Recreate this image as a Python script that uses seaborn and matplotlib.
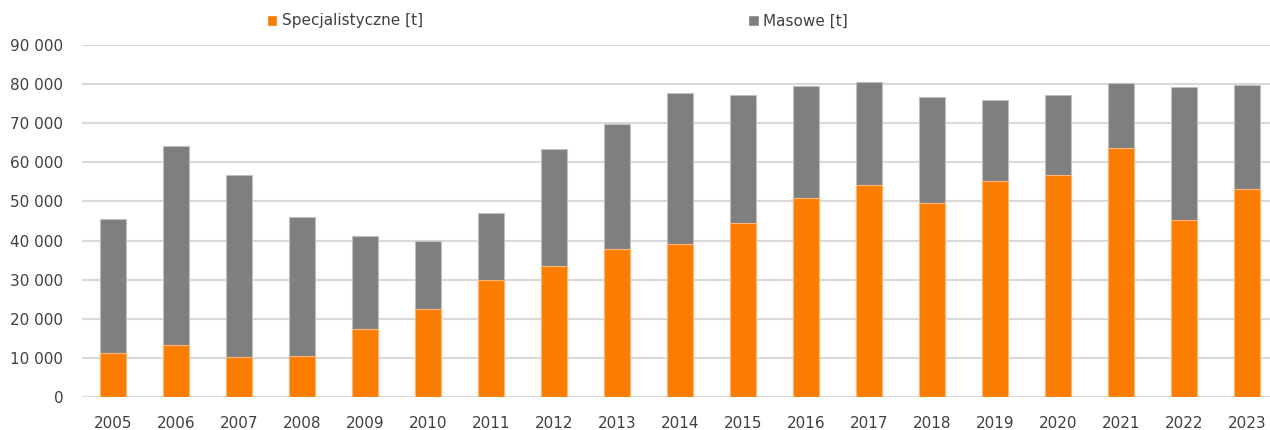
import matplotlib
matplotlib.use("Agg")
import matplotlib.pyplot as plt
import matplotlib.ticker as mticker
from matplotlib.patches import Patch
import seaborn as sns
import pandas as pd

years = [str(y) for y in range(2005, 2024)]
specjalistyczne = [11200, 13200, 10200, 10400, 17300, 22600, 29800, 33600, 37900, 39200,
                   44600, 50900, 54300, 49500, 55100, 56700, 63600, 45300, 53100]
razem = [45400, 64100, 56800, 46000, 41200, 39800, 47000, 63500, 69800, 77700,
         77100, 79500, 80500, 76600, 75900, 77300, 80300, 79200, 79800]
masowe = [t - s for t, s in zip(razem, specjalistyczne)]
labels = ["Specjalistyczne [t]", "Masowe [t]"]

ORANGE = "#FA7D00"
GRAY = "#7F7F7F"
TEXT = "#404040"

sns.set_theme(style="white")
plt.rcParams['font.family'] = ['DejaVu Sans']

df = pd.DataFrame({"rok": years, "spec": specjalistyczne,
                   "masowe": masowe,
                   "razem": [s + m for s, m in zip(specjalistyczne, masowe)]})

fig = plt.figure(figsize=(12.7, 4.3), dpi=100)
ax = fig.add_axes([81.5 / 1270, 33 / 430, 1197 / 1270, 352 / 430])

sns.barplot(data=df, x="rok", y="razem", color=GRAY, width=0.41, saturation=1,
            edgecolor="#BFBFBF", linewidth=0.8, ax=ax, zorder=3)
sns.barplot(data=df, x="rok", y="spec", color=ORANGE, width=0.41, saturation=1,
            edgecolor="#FDB67A", linewidth=0.8, ax=ax, zorder=4)

ax.set_ylim(0, 90000)
ax.set_xlim(-0.5, len(years) - 0.5)
ax.yaxis.set_major_locator(mticker.MultipleLocator(10000))
ax.yaxis.set_major_formatter(mticker.FuncFormatter(lambda v, p: f"{int(v):,}".replace(",", " ")))
ax.grid(axis="y", color="#D9D9D9", linewidth=1.5, zorder=0)
ax.set_axisbelow(True)
for s in ax.spines.values():
    s.set_visible(False)
ax.set_xlabel("")
ax.set_ylabel("")
ax.tick_params(axis="both", length=0, labelsize=11, labelcolor=TEXT)
ax.tick_params(axis="y", pad=13)
ax.tick_params(axis="x", pad=14)

handles = [Patch(facecolor=ORANGE), Patch(facecolor=GRAY)]
fig.legend(handles, labels, loc="center left", bbox_to_anchor=(253 / 1270, 1 - 21 / 430),
           ncol=2, frameon=False, fontsize=11, labelcolor=TEXT,
           handlelength=0.7, handleheight=0.7, handletextpad=0.3, columnspacing=21.25)

fig.savefig("out.png", dpi=100)
